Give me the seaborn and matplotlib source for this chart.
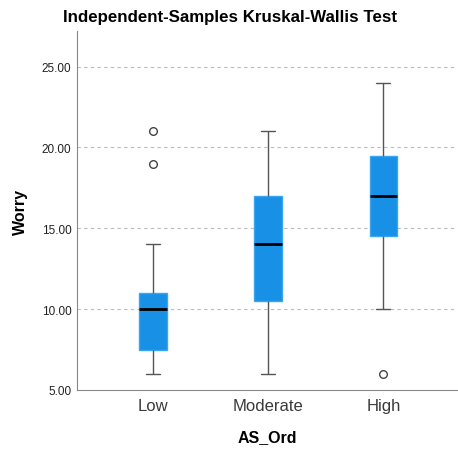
import matplotlib
matplotlib.use('Agg')
import matplotlib.pyplot as plt
import seaborn as sns
import pandas as pd
from matplotlib.ticker import FormatStrFormatter

# values (13 per group, chosen to give the drawn quartiles)
groups = ['Low', 'Moderate', 'High']
low = [6, 7, 7, 7.5, 8, 9, 10, 10, 11, 11, 14, 19, 21]
moderate = [6, 8, 9, 10.5, 12, 13, 14, 15, 16, 17, 19, 20, 21]
high = [6, 10, 12, 14.5, 15, 16, 17, 18, 19, 19.5, 21, 22, 24]

df = pd.DataFrame({
    'AS_Ord': ['Low'] * len(low) + ['Moderate'] * len(moderate) + ['High'] * len(high),
    'Worry': low + moderate + high,
})

sns.set_style('white')
plt.rcParams['font.family'] = ['Liberation Sans', 'DejaVu Sans']

fig = plt.figure(figsize=(4.58, 4.52), dpi=100)
ax = fig.add_axes([0.168, 0.135, 0.83, 0.794])

sns.boxplot(data=df, x='AS_Ord', y='Worry', order=groups, ax=ax,
            color='#1790e6', width=0.24, whis=1.5, linewidth=1.0,
            boxprops=dict(facecolor='#1790e6', edgecolor='#3aa6f2', linewidth=1.0),
            medianprops=dict(color='black', linewidth=2.0),
            whiskerprops=dict(color='#555555', linewidth=1.0),
            capprops=dict(color='#555555', linewidth=1.0),
            flierprops=dict(marker='o', markersize=5.5, markerfacecolor='white',
                            markeredgecolor='#444444', markeredgewidth=1.0))

ax.set_ylim(5, 27.2)
ax.set_xlim(-0.66, 2.64)
ax.set_yticks([5, 10, 15, 20, 25])
ax.yaxis.set_major_formatter(FormatStrFormatter('%.2f'))
for yv in [10, 15, 20, 25]:
    ax.axhline(yv, color='#bbbbbb', linestyle=(0, (3, 3)), linewidth=0.8, zorder=0)

ax.spines['top'].set_visible(False)
ax.spines['right'].set_visible(False)
ax.spines['left'].set_color('#888888')
ax.spines['bottom'].set_color('#888888')
ax.tick_params(axis='y', labelsize=8.5, length=0, pad=4, colors='#222222')
ax.tick_params(axis='x', labelsize=12, length=0, pad=6, colors='#3a3a3a')

ax.set_xlabel('AS_Ord', fontsize=11.5, fontweight='bold', labelpad=11, color='black')
ax.set_ylabel('Worry', fontsize=11.5, fontweight='bold', labelpad=10, color='black')
fig.text(0.502, 0.962, 'Independent-Samples Kruskal-Wallis Test', fontsize=12.2,
         fontweight='bold', ha='center', va='center', color='black')

fig.savefig('out.png', dpi=100)
